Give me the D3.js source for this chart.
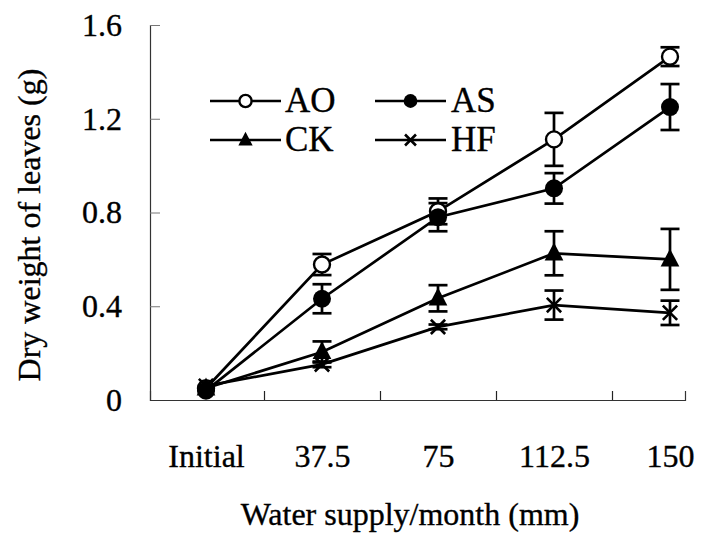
<!DOCTYPE html>
<html>
<head>
<meta charset="utf-8">
<script src="https://cdn.jsdelivr.net/npm/d3@7"></script>
<style>
  html, body { margin: 0; padding: 0; background: #fff; }
  svg { display: block; }
  text { font-family: "Liberation Serif", "Times New Roman", serif; fill: #000; stroke: #000; stroke-width: 0.35px; }
</style>
</head>
<body>
<svg id="chart" width="717" height="538"></svg>
<script>
// Water supply levels (x categories)
const categories = ["Initial", "37.5", "75", "112.5", "150"];

// Dry weight of leaves (g), mean and error for each treatment
const seriesNames = ["AO", "AS", "CK", "HF"];
const aoMean = [0.05, 0.578, 0.805, 1.112, 1.465];
const aoErr  = [0.01, 0.045, 0.055, 0.113, 0.040];
const asMean = [0.04, 0.432, 0.780, 0.903, 1.250];
const asErr  = [0.01, 0.062, 0.060, 0.065, 0.098];
const ckMean = [0.05, 0.205, 0.434, 0.626, 0.600];
const ckErr  = [0.01, 0.045, 0.056, 0.094, 0.130];
const hfMean = [0.06, 0.152, 0.312, 0.405, 0.372];
const hfErr  = [0.01, 0.012, 0.010, 0.062, 0.052];

const yTicks = [0, 0.4, 0.8, 1.2, 1.6];

const series = [
  { name: "AO", mean: aoMean, err: aoErr, marker: "openCircle" },
  { name: "AS", mean: asMean, err: asErr, marker: "filledCircle" },
  { name: "CK", mean: ckMean, err: ckErr, marker: "triangle" },
  { name: "HF", mean: hfMean, err: hfErr, marker: "cross" }
];

const svg = d3.select("#chart");
const FONT = 32;

// Scales: categories sit at integer positions, axis runs a little past both ends
const x = d3.scaleLinear().domain([0, 4]).range([206, 670]);
const xLeft = x.invert(150), xRight = x.invert(685);
const xAxisScale = d3.scaleLinear().domain([xLeft, xRight]).range([150, 685]);
const y = d3.scaleLinear().domain([0, 1.6]).range([400, 25]);

// Y axis with inward ticks
const yAxis = d3.axisLeft(y)
  .tickValues(yTicks)
  .tickSize(-10)
  .tickPadding(28)
  .tickFormat(d => d === 0 ? "0" : d3.format(".1f")(d));
const gy = svg.append("g").attr("transform", "translate(150,0)").call(yAxis);
gy.select(".domain").attr("stroke", "#333").attr("stroke-width", 1.2);
gy.selectAll(".tick line").attr("stroke", "#777");
gy.selectAll(".tick text").style("font-size", FONT + "px").attr("font-family", null);

// X axis: boundary ticks between categories, pointing inward
const xAxis = d3.axisBottom(xAxisScale)
  .tickValues([0.5, 1.5, 2.5, 3.5])
  .tickSize(-9)
  .tickFormat("");
const gx = svg.append("g").attr("transform", "translate(0,400)").call(xAxis);
gx.select(".domain").attr("stroke", "#333").attr("stroke-width", 1.2);
gx.selectAll(".tick line").attr("stroke", "#222").attr("stroke-width", 1.2);

// Category labels centred under each group
const xLabelAxis = d3.axisBottom(x)
  .tickValues(d3.range(categories.length))
  .tickSize(0)
  .tickPadding(44)
  .tickFormat(i => categories[i]);
const gxl = svg.append("g").attr("transform", "translate(0,400)").call(xLabelAxis);
gxl.select(".domain").remove();
gxl.selectAll(".tick text").style("font-size", FONT + "px").attr("font-family", null);

// Axis titles
svg.append("text")
  .attr("x", 410).attr("y", 525)
  .attr("text-anchor", "middle")
  .style("font-size", FONT + "px")
  .text("Water supply/month (mm)");

svg.append("text")
  .attr("transform", "translate(40,225) rotate(-90)")
  .attr("text-anchor", "middle")
  .style("font-size", FONT + "px")
  .text("Dry weight of leaves (g)");

// Marker drawing
function drawMarker(g, type, cx, cy, s) {
  if (type === "openCircle") {
    g.append("circle").attr("cx", cx).attr("cy", cy).attr("r", s * 0.47)
      .attr("fill", "#fff").attr("stroke", "#000").attr("stroke-width", 2.4);
  } else if (type === "filledCircle") {
    g.append("circle").attr("cx", cx).attr("cy", cy).attr("r", s * 0.53)
      .attr("fill", "#000");
  } else if (type === "triangle") {
    const h = s * 1.05, w = s * 1.1;
    g.append("path")
      .attr("d", `M${cx},${cy - h * 0.6}L${cx + w / 2},${cy + h * 0.4}L${cx - w / 2},${cy + h * 0.4}Z`)
      .attr("fill", "#000");
  } else if (type === "cross") {
    const r = s * 0.42;
    g.append("path")
      .attr("d", `M${cx - r},${cy - r}L${cx + r},${cy + r}M${cx - r},${cy + r}L${cx + r},${cy - r}`)
      .attr("stroke", "#000").attr("stroke-width", 2.6).attr("fill", "none");
  }
}

const plot = svg.append("g");
const line = d3.line().x((d, i) => x(i)).y(d => y(d));
const capW = 9.5;

series.forEach(s => {
  // connecting line
  plot.append("path")
    .datum(s.mean)
    .attr("d", line)
    .attr("fill", "none")
    .attr("stroke", "#000")
    .attr("stroke-width", 2.7);

  // error bars
  s.mean.forEach((m, i) => {
    const e = s.err[i];
    if (i === 0) return;
    const g = plot.append("g").attr("stroke", "#000").attr("stroke-width", 2.7);
    g.append("line").attr("x1", x(i)).attr("x2", x(i)).attr("y1", y(m + e)).attr("y2", y(m - e));
    g.append("line").attr("x1", x(i) - capW).attr("x2", x(i) + capW).attr("y1", y(m + e)).attr("y2", y(m + e));
    g.append("line").attr("x1", x(i) - capW).attr("x2", x(i) + capW).attr("y1", y(m - e)).attr("y2", y(m - e));
  });
});

series.forEach(s => {
  s.mean.forEach((m, i) => drawMarker(plot, s.marker, x(i), y(m), 17));
});

// Legend
const legendRows = [[0, 1], [2, 3]];
const legendY = [101, 140];
const legendCols = [{ x1: 210, x2: 281, tx: 285 }, { x1: 375, x2: 446, tx: 451 }];
const legend = svg.append("g");
legendRows.forEach((row, r) => {
  row.forEach((si, c) => {
    const s = series[si], col = legendCols[c], ly = legendY[r];
    legend.append("line").attr("x1", col.x1).attr("x2", col.x2)
      .attr("y1", ly).attr("y2", ly).attr("stroke", "#000").attr("stroke-width", 2.4);
    drawMarker(legend, s.marker, (col.x1 + col.x2) / 2, ly, 13);
    legend.append("text").attr("x", col.tx).attr("y", ly + 11)
      .style("font-size", "35px").text(s.name);
  });
});
</script>
</body>
</html>
